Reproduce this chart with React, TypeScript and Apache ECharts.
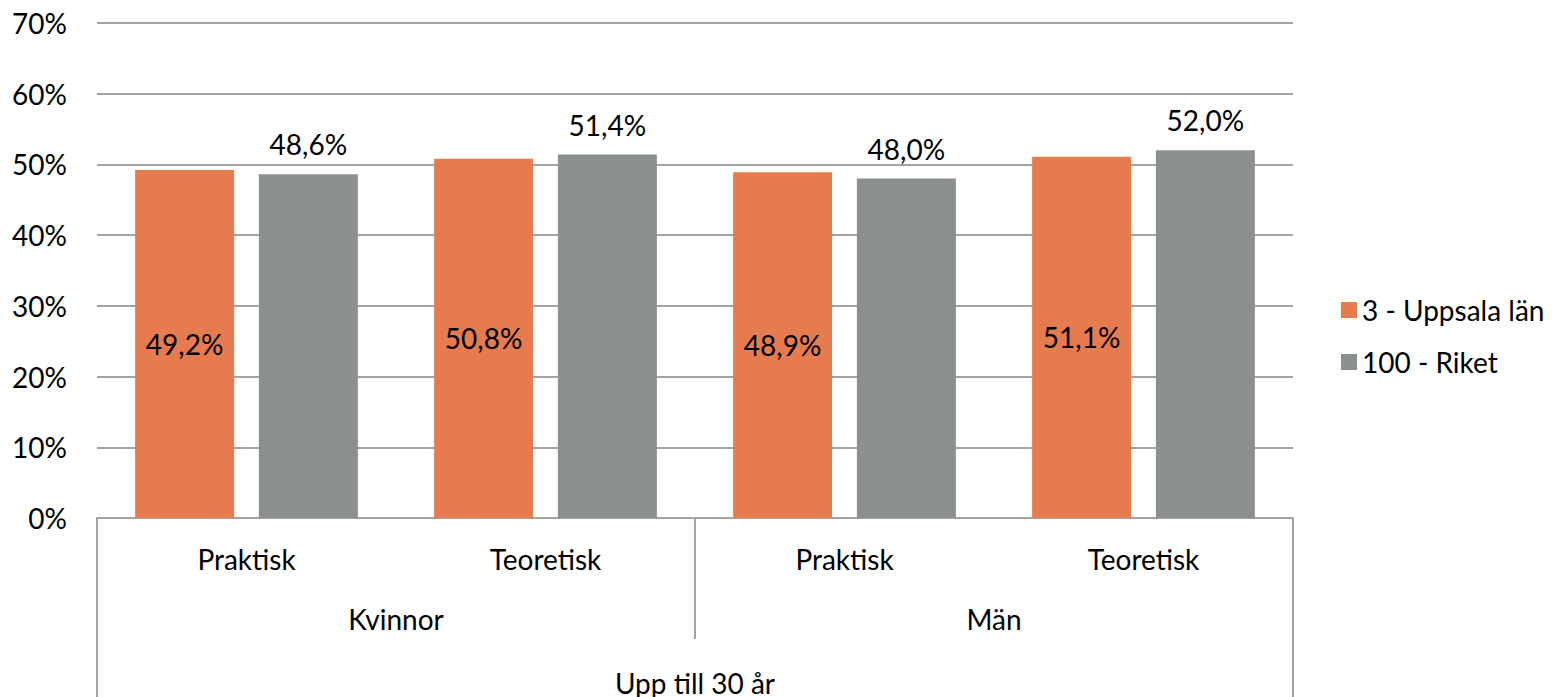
import React, { useEffect, useRef } from "react";
import * as echarts from "echarts";

const categories = ["Praktisk", "Teoretisk", "Praktisk", "Teoretisk"];
const groups = ["Kvinnor", "Män"];
const topGroup = ["Upp till 30 år"];
const seriesNames = ["3 - Uppsala län", "100 - Riket"];
const uppsala = [49.2, 50.8, 48.9, 51.1];
const riket = [48.6, 51.4, 48.0, 52.0];

const FONT = "Lato";
const FS = 28;
const ORANGE = "#E67B4F";
const GRAY = "#8B908E";
const LINE = "#A3A3A3";

const fmt = (v: number) => v.toFixed(1).replace(".", ",") + "%";

export default function App() {
  const ref = useRef<HTMLDivElement>(null);
  useEffect(() => {
    if (!ref.current) return;
    const chart = echarts.init(ref.current, undefined, { renderer: "svg" });
    chart.setOption({
      animation: false,
      textStyle: { fontFamily: FONT },
      grid: { left: 97, right: 265, top: 23, bottom: 178, containLabel: false },
      legend: {
        orient: "vertical",
        left: 1336,
        top: 291,
        itemWidth: 16,
        itemHeight: 16,
        itemGap: 24,
        icon: "rect",
        textStyle: { fontSize: FS, color: "#000", fontFamily: FONT },
        data: seriesNames,
      },
      xAxis: [
        {
          type: "category",
          data: categories,
          position: "bottom",
          axisLine: { show: true, lineStyle: { color: LINE, width: 2 } },
          axisTick: { show: false },
          axisLabel: { fontSize: FS, color: "#000", margin: 27, fontFamily: FONT },
        },
        {
          type: "category",
          data: groups,
          position: "bottom",
          axisLine: { show: false },
          axisTick: { show: true, length: 121, lineStyle: { color: LINE, width: 2 } },
          axisLabel: { fontSize: FS, color: "#000", margin: 87, fontFamily: FONT },
        },
        {
          type: "category",
          data: topGroup,
          position: "bottom",
          axisLine: { show: false },
          axisTick: { show: true, length: 180, lineStyle: { color: LINE, width: 2 } },
          axisLabel: { fontSize: FS, color: "#000", margin: 151, fontFamily: FONT },
        },
      ],
      yAxis: {
        type: "value",
        min: 0,
        max: 70,
        interval: 10,
        axisLine: { show: false },
        axisTick: { show: false },
        splitLine: { lineStyle: { color: LINE, width: 2 } },
        axisLabel: { fontSize: FS, color: "#000", margin: 30, formatter: "{value}%", fontFamily: FONT },
      },
      series: [
        {
          name: seriesNames[0],
          type: "bar",
          data: uppsala,
          barWidth: 99,
          barGap: "25%",
          itemStyle: { color: ORANGE },
          label: {
            show: true,
            position: "inside",
            fontSize: FS,
            color: "#000",
            fontFamily: FONT,
            formatter: (p: any) => fmt(p.value),
          },
        },
        {
          name: seriesNames[1],
          type: "bar",
          data: riket,
          barWidth: 99,
          barGap: "25%",
          itemStyle: { color: GRAY },
          label: {
            show: true,
            position: "top",
            distance: 16,
            fontSize: FS,
            color: "#000",
            fontFamily: FONT,
            formatter: (p: any) => fmt(p.value),
          },
        },
      ],
    });
    return () => chart.dispose();
  }, []);
  return <div ref={ref} style={{ width: 1558, height: 697, position: "absolute", left: 0, top: 0 }} />;
}
